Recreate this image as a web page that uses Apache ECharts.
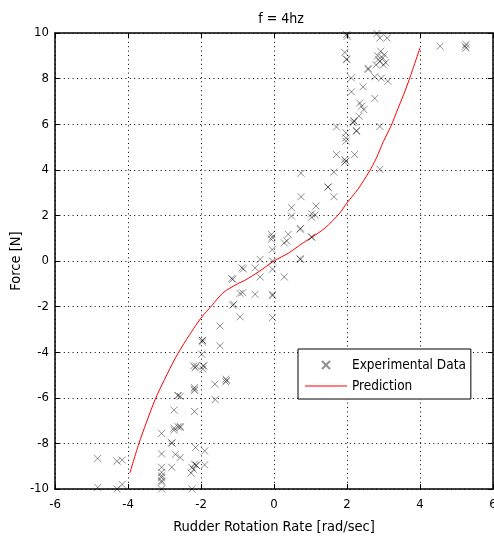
<!DOCTYPE html>
<html>
<head>
<meta charset="utf-8">
<script src="https://cdn.jsdelivr.net/npm/echarts@6/dist/echarts.min.js"></script>
<style>
html,body{margin:0;padding:0;background:#fff;}
#chart{width:494px;height:541px;}
</style>
</head>
<body>
<div id="chart"></div>
<script>
var titleText = 'f = 4hz';
var xAxisName = 'Rudder Rotation Rate [rad/sec]';
var yAxisName = 'Force [N]';
var seriesNames = ['Experimental Data', 'Prediction'];
var xTicks = [-6, -4, -2, 0, 2, 4, 6];
var yTicks = [-10, -8, -6, -4, -2, 0, 2, 4, 6, 8, 10];

var experimental = [
  [-4.83,-8.66],[-4.83,-9.93],[-4.30,-8.78],[-4.16,-8.73],[-4.30,-10.0],[-4.16,-9.8],
  [-3.08,-7.56],[-3.08,-8.46],[-3.08,-9.05],[-3.08,-9.27],[-3.08,-9.42],[-3.08,-9.5],[-3.08,-9.64],[-3.08,-9.7],[-3.08,-10.0],
  [-2.80,-9.05],[-2.80,-7.98],[-2.80,-7.98],[-2.74,-7.42],[-2.74,-6.54],[-2.74,-7.33],[-2.70,-8.48],
  [-2.63,-5.9],[-2.63,-5.9],[-2.57,-5.94],[-2.63,-7.27],[-2.57,-7.3],[-2.57,-7.25],[-2.57,-8.62],
  [-2.25,-10.0],[-2.25,-9.05],[-2.18,-8.91],[-2.13,-8.96],[-2.13,-8.96],[-2.20,-9.15],[-2.27,-9.3],[-2.15,-8.18],
  [-2.18,-6.6],[-2.18,-5.62],[-2.18,-5.68],[-2.18,-5.55],[-2.2,-4.6],[-2.13,-4.6],[-2.16,-4.68],
  [-1.96,-3.48],[-1.96,-3.48],[-1.96,-3.55],[-1.98,-4.09],[-1.95,-4.6],[-1.95,-4.74],[-1.92,-4.6],[-1.90,-8.33],[-1.90,-8.94],
  [-1.62,-5.4],[-1.61,-6.08],[-1.48,-2.85],[-1.48,-3.72],[-1.32,-5.18],[-1.32,-5.3],[-1.30,-5.24],
  [-1.13,-1.94],[-1.10,-1.9],[-1.16,-0.77],[-1.13,-0.8],[-0.93,-2.45],[-0.93,-1.42],[-0.86,-1.39],[-0.88,-0.3],[-0.84,-0.35],
  [-0.52,-1.46],[-0.52,-0.3],[-0.38,0.07],[-0.38,-0.7],
  [-0.04,0.0],[-0.04,-0.36],[-0.04,-1.46],[-0.04,-1.52],[-0.04,-2.48],[-0.05,0.5],[-0.07,0.95],[-0.07,1.17],[-0.05,1.05],
  [0.28,-0.7],[0.28,0.8],[0.39,1.17],[0.35,0.88],[0.73,0.07],[0.71,0.1],[0.73,1.43],[0.71,1.39],[0.74,2.82],[0.74,3.85],
  [0.48,2.34],[0.48,1.97],[1.03,2.07],[1.03,1.92],[1.15,2.41],[1.13,2.02],[1.03,1.05],[1.03,1.05],
  [1.48,3.24],[1.48,3.24],[1.64,3.9],[1.64,2.82],[1.71,4.67],[1.94,4.45],[1.94,4.33],[1.97,4.38],[2.21,4.67],
  [1.71,5.88],[1.97,5.4],[1.97,5.26],[1.97,5.62],[2.19,6.13],[2.19,6.15],[2.17,6.06],[2.26,5.69],[2.26,5.72],
  [2.33,6.35],[2.40,6.79],[2.46,6.64],[2.35,6.93],[2.44,7.64],[2.76,7.13],[2.90,5.9],[2.90,4.02],
  [2.12,7.42],[2.12,8.03],[2.58,8.4],[2.58,8.45],[2.76,8.08],[2.94,8.02],[3.12,7.88],
  [2.80,8.6],[2.86,8.85],[2.92,9.2],[2.98,8.9],[3.02,9.05],[3.06,8.7],[2.90,8.75],[3.00,8.6],[2.84,9.0],
  [1.99,8.83],[1.99,8.86],[1.94,9.15],[1.99,9.93],[2.00,9.85],[2.82,9.98],[2.90,9.78],[3.10,9.78],
  [4.55,9.42],[5.26,9.5],[5.26,9.34],[5.24,9.42]
];

var predX = [-3.95,-3.7,-3.5,-3.25,-3.0,-2.7,-2.4,-2.0,-1.7,-1.4,-1.0,-0.8,-0.4,0,0.4,0.8,1.0,1.4,1.8,2.0,2.3,2.6,2.8,3.0,3.2,3.4,3.6,3.8,4.0];
var predY = [-9.3,-8.0,-7.1,-6.05,-5.2,-4.25,-3.45,-2.5,-1.95,-1.4,-1.0,-0.85,-0.45,0,0.35,0.8,1.0,1.45,2.1,2.55,3.15,3.9,4.5,5.25,5.9,6.7,7.5,8.4,9.35];

var FONT = "'Liberation Sans Narrow', 'DejaVu Sans Condensed', 'DejaVu Sans', sans-serif";
var xMark = 'path://M0,0L10,10M10,0L0,10';
var lineIcon = 'path://M0,5L42,5L42,6L0,6Z';

var chart = echarts.init(document.getElementById('chart'), null, {renderer: 'canvas'});

function baseAxis(extra) {
  return Object.assign({
    type: 'value',
    axisLine: {show: true, onZero: false, lineStyle: {color: '#000', width: 1.5}},
    axisTick: {show: true, inside: true, length: 5, lineStyle: {color: '#000'}},
    splitLine: {show: false}
  }, extra);
}

chart.setOption({
  animation: false,
  backgroundColor: '#fff',
  title: {
    text: titleText,
    left: 276, top: 7, textAlign: 'center',
    textStyle: {fontFamily: FONT, fontSize: 14, fontWeight: 'normal', color: '#000'}
  },
  grid: {left: 55, right: 1, top: 33, bottom: 52, containLabel: false, outerBoundsMode: 'none'},
  legend: {
    orient: 'vertical',
    left: 298, top: 349,
    padding: [9, 5, 6, 7],
    itemGap: 7,
    itemWidth: 42, itemHeight: 8,
    backgroundColor: '#fff',
    borderColor: '#000', borderWidth: 1,
    textStyle: {fontFamily: FONT, fontSize: 13.5, color: '#000'},
    data: [
      {name: seriesNames[0], icon: xMark},
      {name: seriesNames[1], icon: lineIcon, itemStyle: {color: '#ff0000', borderWidth: 0}}
    ]
  },
  xAxis: [
    baseAxis({
      min: xTicks[0], max: xTicks[xTicks.length - 1], interval: 2,
      position: 'bottom',
      name: xAxisName, nameLocation: 'middle', nameGap: 31, nameMoveOverlap: false,
      nameTextStyle: {fontFamily: FONT, fontSize: 14.5, color: '#000'},
      axisLabel: {margin: 9, fontFamily: FONT, fontSize: 13, color: '#000'},
      splitLine: {show: true, lineStyle: {color: '#000', type: [1, 3.4], width: 1}}
    }),
    baseAxis({
      min: xTicks[0], max: xTicks[xTicks.length - 1], interval: 2,
      position: 'top', axisLabel: {show: false}
    })
  ],
  yAxis: [
    baseAxis({
      min: yTicks[0], max: yTicks[yTicks.length - 1], interval: 2,
      position: 'left',
      name: yAxisName, nameLocation: 'middle', nameGap: 31, nameRotate: 90, nameMoveOverlap: false,
      nameTextStyle: {fontFamily: FONT, fontSize: 14.5, color: '#000'},
      axisLabel: {margin: 6, fontFamily: FONT, fontSize: 13, color: '#000'},
      splitLine: {show: true, lineStyle: {color: '#000', type: [1, 3.4], width: 1}}
    }),
    baseAxis({
      min: yTicks[0], max: yTicks[yTicks.length - 1], interval: 2,
      position: 'right', axisLabel: {show: false}
    })
  ],
  series: [
    {
      name: seriesNames[0],
      type: 'scatter',
      symbol: xMark,
      symbolSize: 7,
      itemStyle: {color: 'transparent', borderColor: 'rgba(0,0,0,0.55)', borderWidth: 1},
      data: experimental,
      z: 3
    },
    {
      name: seriesNames[1],
      type: 'line',
      symbol: 'none',
      smooth: 0.3,
      lineStyle: {color: '#ff0000', width: 1},
      itemStyle: {color: '#ff0000'},
      data: predX.map(function (x, i) { return [x, predY[i]]; }),
      z: 2
    }
  ]
});
</script>
</body>
</html>
